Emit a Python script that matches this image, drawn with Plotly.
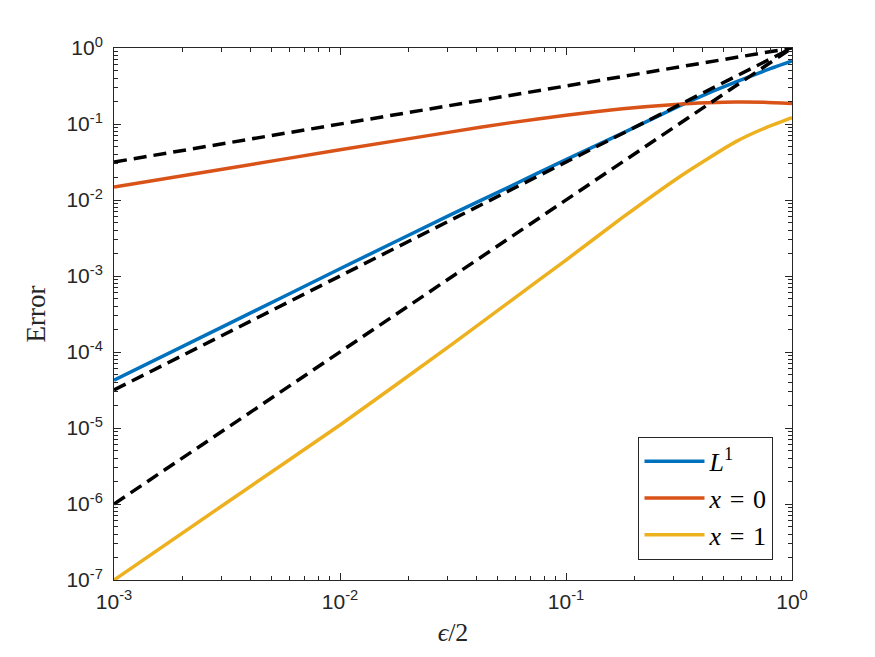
import plotly.graph_objects as go

# ---- data ----
eps_half = [0.001, 0.00316, 0.01, 0.0316, 0.0562, 0.1, 0.178, 0.316, 0.422, 0.562, 0.750, 1.0]
err_L1 = [4.25e-5, 2.29e-4, 1.245e-3, 6.61e-3, 0.01496, 0.0339, 0.0759, 0.1718, 0.2512, 0.3548, 0.4955, 0.6745]
err_x0 = [0.01483, 0.0260, 0.0457, 0.0794, 0.1035, 0.1303, 0.1585, 0.1820, 0.1897, 0.1945, 0.1928, 0.1854]
err_x1 = [1.0e-7, 1.047e-6, 1.096e-5, 1.288e-4, 4.57e-4, 1.622e-3, 5.89e-3, 0.01995, 0.03467, 0.0582, 0.0871, 0.1213]

ref_x = [0.001, 1.0]
ref_half = [0.0316, 1.0]
ref_three_half = [3.16e-5, 1.0]
ref_two = [1.0e-6, 1.0]

x_tickvals = [0.001, 0.01, 0.1, 1]
x_ticktext = ["10<sup>-3</sup>", "10<sup>-2</sup>", "10<sup>-1</sup>", "10<sup>0</sup>"]
y_tickvals = [1e-7, 1e-6, 1e-5, 1e-4, 1e-3, 1e-2, 1e-1, 1]
y_ticktext = ["10<sup>-7</sup>", "10<sup>-6</sup>", "10<sup>-5</sup>", "10<sup>-4</sup>",
              "10<sup>-3</sup>", "10<sup>-2</sup>", "10<sup>-1</sup>", "10<sup>0</sup>"]

series_names = ["<i>L</i><sup>1</sup>", "<i>x</i>\u2004=\u20040", "<i>x</i>\u2004=\u20041"]
series_colors = ["#0072BD", "#D95319", "#EDB120"]

minor_x = [m * 10.0 ** e for e in (-3, -2, -1) for m in range(2, 10)]
minor_y = [m * 10.0 ** e for e in range(-7, 0) for m in range(2, 10)]

fig = go.Figure()
for i, (name, ys, col) in enumerate(zip(series_names, [err_L1, err_x0, err_x1], series_colors)):
    fig.add_trace(go.Scatter(x=eps_half, y=ys, mode="lines", name=name, legendgroup=f"g{i}",
                             line=dict(color=col, width=3.5, shape="spline", smoothing=0.6)))
for ys in [ref_half, ref_three_half, ref_two]:
    fig.add_trace(go.Scatter(x=ref_x, y=ys, mode="lines", showlegend=False,
                             line=dict(color="black", width=3.5, dash="13px,7px")))

tick_font = dict(family="Arial", size=21, color="#262626")

axis_common = dict(
    type="log", showgrid=False, zeroline=False, showline=True, linecolor="#262626",
    linewidth=1, mirror="allticks", ticks="inside", ticklen=7, tickcolor="#262626",
)

fig.update_xaxes(**axis_common, range=[-3, 0], tickvals=x_tickvals, ticktext=x_ticktext,
                 tickfont=tick_font, ticklabelstandoff=3,
                 minor=dict(tickvals=minor_x, ticks="inside", ticklen=4, tickcolor="#262626"),
                 title=dict(text="<i>ϵ</i>/2", standoff=10,
                            font=dict(family="Liberation Serif, serif", size=26, color="#262626")))
fig.update_yaxes(**axis_common, range=[-7, 0], tickvals=y_tickvals, ticktext=y_ticktext,
                 tickfont=tick_font, ticklabelstandoff=6,
                 minor=dict(tickvals=minor_y, ticks="inside", ticklen=4, tickcolor="#262626"),
                 title=dict(text="Error", standoff=12,
                            font=dict(family="Liberation Serif, serif", size=27, color="#262626")))

fig.update_layout(
    width=875, height=657,
    margin=dict(l=114, r=83, t=48, b=77),
    paper_bgcolor="white", plot_bgcolor="white",
    legend=dict(x=0.9727, y=0.038, xanchor="right", yanchor="bottom",
                bordercolor="#262626", borderwidth=1, bgcolor="white",
                itemwidth=60, tracegroupgap=0,
                font=dict(family="Liberation Serif, serif", size=26, color="black")),
)

fig.write_html("out.html")
